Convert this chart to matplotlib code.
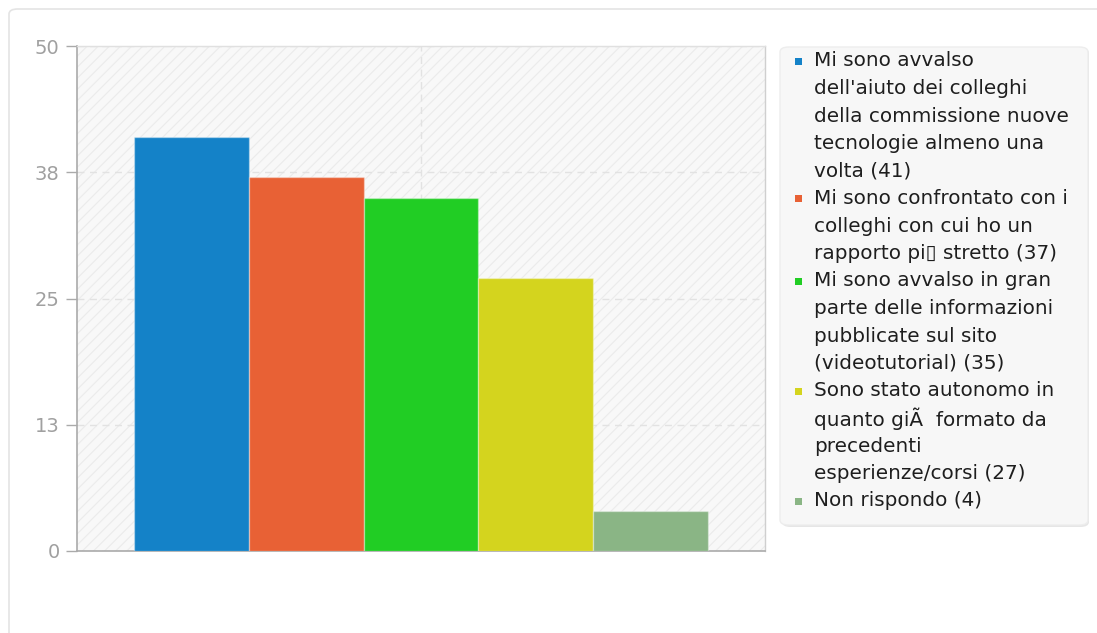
import matplotlib.pyplot as plt
from matplotlib.patches import FancyBboxPatch, Rectangle
import numpy as np

W, H = 1097, 633

# DATA
labels = [
    "Mi sono avvalso\ndell'aiuto dei colleghi\ndella commissione nuove\ntecnologie almeno una\nvolta",
    "Mi sono confrontato con i\ncolleghi con cui ho un\nrapporto pi\u25af stretto",
    "Mi sono avvalso in gran\nparte delle informazioni\npubblicate sul sito\n(videotutorial)",
    "Sono stato autonomo in\nquanto gi\u00c3\u00a0 formato da\nprecedenti\nesperienze/corsi",
    "Non rispondo",
]
values = [41, 37, 35, 27, 4]
colors = ["#1482c8", "#e86135", "#21cd24", "#d4d41e", "#8ab585"]
y_ticks = [0, 12.5, 25, 37.5, 50]
y_tick_labels = [str(int(v + 0.5)) for v in y_ticks]


def fx(x):
    return x / W


def fy(y):
    return 1 - y / H


fig = plt.figure(figsize=(W / 100, H / 100), dpi=100)
fig.patch.set_facecolor("white")

# outer card
card = FancyBboxPatch((fx(9), fy(640)), fx(1120), 631 / H,
                      boxstyle="round,pad=0,rounding_size=0.008",
                      transform=fig.transFigure, facecolor="white",
                      edgecolor="#e4e4e4", linewidth=1.2, zorder=-5)
fig.patches.append(card)

# PLOT AREA
ax = fig.add_axes([fx(77), fy(551), fx(765 - 77), (551 - 46) / H])
ax.set_zorder(2)
ax.set_facecolor("#f8f8f8")
plt.rcParams["hatch.linewidth"] = 0.8
ax.add_patch(Rectangle((0, 0), 1, 1, transform=ax.transAxes, facecolor="none",
                       edgecolor="#ebebeb", hatch="///", linewidth=0, zorder=0))

x = np.arange(1, len(values) + 1)
ax.bar(x, values, width=1.0, color=colors, edgecolor=(1, 1, 1, 0.35),
       linewidth=1, zorder=3)

ax.set_xlim(0, len(values) + 1)
ax.set_ylim(0, 50)
ax.set_yticks(y_ticks)
ax.set_yticklabels(y_tick_labels)
ax.set_xticks([(len(values) + 1) / 2])
ax.set_xticklabels([])
ax.tick_params(axis="x", length=0)
ax.tick_params(axis="y", length=8, width=1, color="#aaaaaa", pad=4.5,
               labelsize=14, labelcolor="#a0a0a0")

ax.grid(True, color="#e2e2e2", linestyle=(0, (5, 4)), linewidth=1, zorder=1)
for s in ["left", "bottom"]:
    ax.spines[s].set_color("#aaaaaa")
    ax.spines[s].set_linewidth(1.2)
for s in ["top", "right"]:
    ax.spines[s].set_color("#e0e0e0")
    ax.spines[s].set_linewidth(1)
ax.spines["right"].set_color("#cfcfcf")

# LEGEND (manual, wrapped like reference)
shadow = FancyBboxPatch((fx(782), fy(527)), fx(1089 - 782), (527 - 48) / H,
                        boxstyle="round,pad=0,rounding_size=0.008",
                        transform=fig.transFigure, facecolor="#e6e6e6",
                        edgecolor="none", zorder=1)
fig.patches.append(shadow)
lbox = FancyBboxPatch((fx(780), fy(525)), fx(1088 - 780), (525 - 47) / H,
                      boxstyle="round,pad=0,rounding_size=0.008",
                      transform=fig.transFigure, facecolor="#f7f7f7",
                      edgecolor="#ededed", linewidth=1, zorder=2)
fig.patches.append(lbox)

line_h = 27.5
y = 61
for lab, val, c in zip(labels, values, colors):
    lines = (lab + f" ({val})").split("\n")
    fig.patches.append(Rectangle((fx(795), fy(y + 4)), fx(7), 7 / H,
                                 transform=fig.transFigure, facecolor=c,
                                 edgecolor="none", zorder=3))
    for ln in lines:
        fig.text(fx(814), fy(y), ln, fontsize=14.4, color="#1e1e1e",
                 va="center", ha="left", zorder=4)
        y += line_h

fig.savefig("out.png", dpi=100)
